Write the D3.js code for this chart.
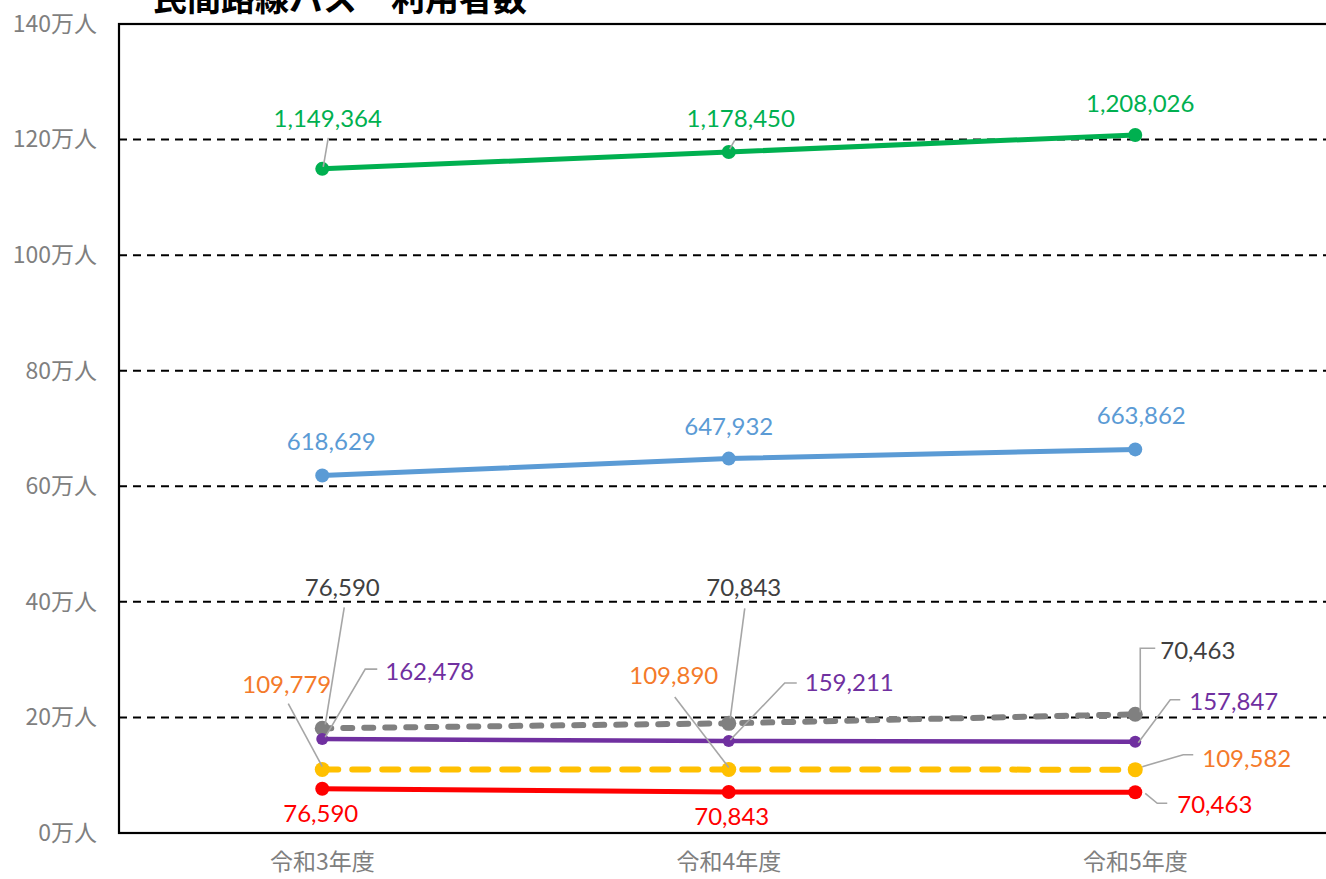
<!DOCTYPE html>
<head>
    <meta charset="utf-8">
    <style> body { margin: 0; background: #fff; } </style>
    <script src="https://d3js.org/d3.v7.min.js"></script>
</head>

<body>
    <svg id="chart" width="1326" height="879"></svg>

    <script>
        // data
        var title = "民間路線バス　利用者数"
        var years = ["令和3年度", "令和4年度", "令和5年度"]
        var yTicks = [0, 200000, 400000, 600000, 800000, 1000000, 1200000, 1400000]

        var greenValues = [1149364, 1178450, 1208026]
        var blueValues = [618629, 647932, 663862]
        var grayValues = [181200, 189800, 205400]       // plotted positions
        var grayLabels = [76590, 70843, 70463]          // labels printed on the gray line
        var purpleValues = [162478, 159211, 157847]
        var yellowValues = [109779, 109890, 109582]
        var redValues = [76590, 70843, 70463]

        // series styles + label layout (offsets from the point, in px)
        let series = [
            { values: greenValues, labels: greenValues, color: "#00b050", text: "#00b050", width: 5, r: 7, dash: null,
              lab: [[5.5, -42, "middle"], [12, -25, "middle"], [5, -23, "middle"]],
              lead: [[[1, -2], [6, -31]], [[1, -3], [6, -12]], null] },
            { values: blueValues, labels: blueValues, color: "#5b9bd5", text: "#5b9bd5", width: 5, r: 7, dash: null,
              lab: [[9, -25.5, "middle"], [0, -24, "middle"], [6, -25.5, "middle"]],
              lead: [null, null, null] },
            { values: grayValues, labels: grayLabels, color: "#808080", text: "#404040", width: 6, r: 7.5, dash: "9,12",
              lab: [[20, -132, "middle"], [15, -127, "middle"], [25, -55, "start"]],
              lead: [[[22, -121], [3, -4]], [[16, -115], [1.5, -5]], [[20, -66], [5, -66], [5, -2]]] },
            { values: purpleValues, labels: purpleValues, color: "#7030a0", text: "#7030a0", width: 4.5, r: 6, dash: null,
              lab: [[63, -59, "start"], [76, -50, "start"], [54, -32, "start"]],
              lead: [[[55, -70], [43, -70], [3, -2]], [[68, -58], [56, -58], [1.5, -1]], [[45, -42], [35, -42], [3, 1]]] },
            { values: yellowValues, labels: yellowValues, color: "#ffc000", text: "#f47a2a", width: 6, r: 7.5, dash: "16,14",
              lab: [[-35.5, -77, "middle"], [-55, -85.5, "middle"], [67, -3, "start"]],
              lead: [[[-34, -66], [0, -3]], [[-54, -72.5], [0, -2]], [[58, -15], [48, -15], [7, -3]]] },
            { values: redValues, labels: redValues, color: "#ff0000", text: "#ff0000", width: 5, r: 7, dash: null,
              lab: [[-1.5, 33, "middle"], [3, 33, "middle"], [42, 21, "start"]],
              lead: [null, null, [[32, 11], [22, 11], [10, 1]]] }
        ]

        let plotLeft = 119
        let plotTop = 24
        let plotBottom = 833
        let step = 406.5

        const svg = d3.select("#chart")

        let x = d3.scaleBand()
            .domain(years)
            .range([plotLeft, plotLeft + step * years.length])

        let y = d3.scaleLinear()
            .domain([0, 1400000])
            .range([plotBottom, plotTop])

        let cx = d => x(d) + x.bandwidth() / 2
        let fmt = d3.format(",")

        // gridlines
        svg.append("g")
            .selectAll("line")
            .data(yTicks.filter(d => d > 0 && d < 1400000))
            .join("line")
                .attr("x1", plotLeft)
                .attr("x2", 1326)
                .attr("y1", d => y(d))
                .attr("y2", d => y(d))
                .attr("stroke", "#000")
                .attr("stroke-width", 2)
                .attr("stroke-dasharray", "8,6");

        // plot frame
        svg.append("rect")
            .attr("x", plotLeft)
            .attr("y", plotTop)
            .attr("width", 1400)
            .attr("height", plotBottom - plotTop)
            .attr("fill", "none")
            .attr("stroke", "#000")
            .attr("stroke-width", 2.2);

        // y axis labels
        var yAxis = svg.append("g")
            .attr("transform", `translate(${plotLeft},0)`)
            .call(d3.axisLeft(y).tickValues(yTicks).tickSize(0).tickPadding(22)
                .tickFormat(d => (d / 10000) + "万人"))
        yAxis.select(".domain").remove()
        yAxis.selectAll("text")
            .style("font-family", "'Noto Sans CJK JP', sans-serif")
            .style("font-size", "23px")
            .style("fill", "#7f7f7f")

        // x axis labels
        var xAxis = svg.append("g")
            .attr("transform", `translate(0,${plotBottom})`)
            .call(d3.axisBottom(x).tickSize(0).tickPadding(21))
        xAxis.select(".domain").remove()
        xAxis.selectAll("text")
            .style("font-family", "'Noto Sans CJK JP', sans-serif")
            .style("font-size", "23px")
            .style("fill", "#7f7f7f")

        // title (cut off by the top of the picture, as in the original)
        svg.append("text")
            .attr("x", 153)
            .attr("y", 11)
            .attr("font-family", "'Noto Sans CJK JP', sans-serif")
            .attr("font-weight", "bold")
            .attr("font-size", "34px")
            .attr("fill", "#000")
            .text(title)

        let line = d3.line()
            .x((d, i) => cx(years[i]))
            .y(d => y(d))

        series.forEach(s => {
            svg.append("path")
                .datum(s.values)
                .attr("d", line)
                .attr("fill", "none")
                .attr("stroke", s.color)
                .attr("stroke-width", s.width)
                .attr("stroke-linecap", "round")
                .attr("stroke-dasharray", s.dash)

            svg.append("g")
                .selectAll("circle")
                .data(s.values)
                .join("circle")
                    .attr("cx", (d, i) => cx(years[i]))
                    .attr("cy", d => y(d))
                    .attr("r", s.r)
                    .attr("fill", s.color)
        })

        // leader lines + data labels
        series.forEach(s => {
            s.values.forEach((v, i) => {
                let px = cx(years[i])
                let py = y(v)
                if (s.lead[i]) {
                    svg.append("polyline")
                        .attr("points", s.lead[i].map(p => [px + p[0], py + p[1]].join(",")).join(" "))
                        .attr("fill", "none")
                        .attr("stroke", "#a6a6a6")
                        .attr("stroke-width", 1.6)
                }
                svg.append("text")
                    .attr("x", px + s.lab[i][0])
                    .attr("y", py + s.lab[i][1])
                    .attr("text-anchor", s.lab[i][2])
                    .attr("font-family", "Lato, 'Open Sans', sans-serif")
                    .attr("font-size", "24px")
                    .attr("fill", s.text)
                    .text(fmt(s.labels[i]))
            })
        })
    </script>
</body>
